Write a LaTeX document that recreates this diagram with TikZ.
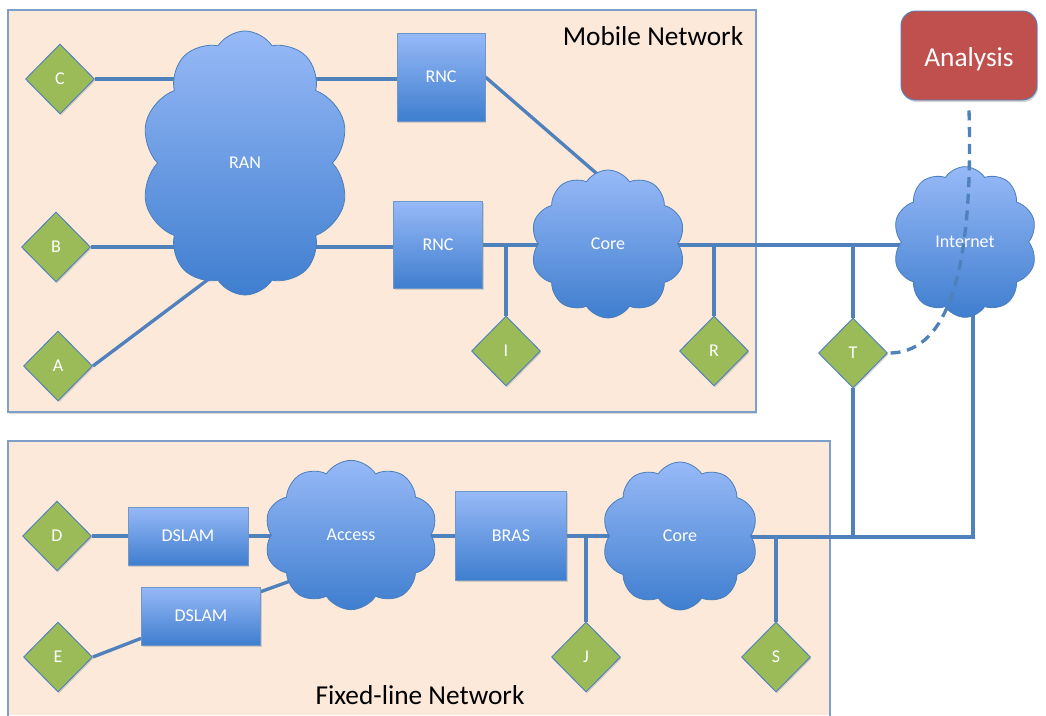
\documentclass[tikz,border=0pt]{standalone}
\usepackage{fontspec}
\setmainfont{Carlito}
\usetikzlibrary{shapes.geometric,shapes.symbols,shadows,calc}
\definecolor{lineblue}{HTML}{4F81BD}
\definecolor{dgreen}{HTML}{9BBB59}
\definecolor{peach}{HTML}{FCE9DA}
\definecolor{regionedge}{HTML}{7F9FCB}
\definecolor{topblue}{HTML}{97B9F7}
\definecolor{botblue}{HTML}{3F7ECF}
\definecolor{cloudedge}{HTML}{4A7EBB}
\definecolor{anared}{HTML}{C0504D}
\pgfdeclarelayer{back}
\pgfdeclarelayer{lines}
\pgfsetlayers{back,lines,main}
\tikzset{
  lbl/.style={font=\fontsize{13.5}{16}\selectfont, text=white},
  diam/.style={diamond, draw=lineblue, line width=0.7pt, fill=dgreen, minimum width=51.75pt, minimum height=52.5pt, inner sep=0pt, lbl,
    drop shadow={shadow xshift=0.8pt, shadow yshift=-1.2pt, opacity=0.3}},
  boxnode/.style={rectangle, draw=cloudedge!80!white, line width=0.6pt, top color=topblue, bottom color=botblue, inner sep=0pt, lbl,
    drop shadow={shadow xshift=0.8pt, shadow yshift=-1.2pt, opacity=0.3}},
  cloudnode/.style={cloud, cloud puffs=10, cloud puff arc=115, cloud ignores aspect, draw=cloudedge, line width=0.6pt,
    top color=topblue, bottom color=botblue, inner sep=0pt, lbl},
  conn/.style={draw=lineblue, line width=2.5pt},
  dlink/.style={draw=lineblue, line width=2.5pt, dash pattern=on 7.5pt off 5pt},
  region/.style={fill=peach, draw=regionedge, line width=1.4pt},
  title/.style={font=\fontsize{20.5}{24}\selectfont, text=black}
}
\begin{document}
\begin{tikzpicture}[x=0.75pt, y=-0.75pt]
\useasboundingbox (0,0) rectangle (1046,715);
% regions
\begin{pgfonlayer}{back}
\fill[peach, drop shadow={shadow xshift=0.8pt, shadow yshift=-1.2pt, opacity=0.3}] (8,10) rectangle (756,412);
\draw[region] (8,10) rectangle (756,412);
\fill[peach] (8,441) rectangle (830,715);
\draw[draw=regionedge, line width=1.4pt] (8,716) -- (8,441) -- (830,441) -- (830,716);
\end{pgfonlayer}
\node[title] (mobtitle) at (653,36) {Mobile Network};
\node[title] (fixtitle) at (420,695) {Fixed-line Network};
% mobile network nodes
\node[cloudnode, minimum width=156pt, minimum height=198pt] (ran) at (245,163) {RAN};
\node[cloudnode, minimum width=116pt, minimum height=111pt] (mcore) at (608,244) {Core};
\node[cloudnode, minimum width=108pt, minimum height=113pt] (inet) at (965,242) {Internet};
\node[boxnode, minimum width=66pt, minimum height=66pt] (rnc1) at (441,77) {RNC};
\node[boxnode, minimum width=66.75pt, minimum height=65.25pt] (rnc2) at (438,245) {RNC};
\node[diam] (C) at (60,79) {C};
\node[diam] (B) at (56,247) {B};
\node[diam] (A) at (58,366) {A};
\node[diam] (I) at (506,351) {I};
\node[diam] (R) at (714,351) {R};
\node[diam] (T) at (853,353) {T};
% fixed network nodes
\node[cloudnode, minimum width=130pt, minimum height=112pt] (access) at (351,535) {Access};
\node[cloudnode, minimum width=117pt, minimum height=111pt] (fcore) at (680,536) {Core};
\node[boxnode, minimum width=90pt, minimum height=43.5pt] (dslam1) at (188,536) {DSLAM};
\node[boxnode, minimum width=89.25pt, minimum height=43.5pt] (dslam2) at (201,616) {DSLAM};
\node[boxnode, minimum width=83.25pt, minimum height=66.75pt] (bras) at (511,536) {BRAS};
\node[diam] (D) at (57,536) {D};
\node[diam] (E) at (58,657) {E};
\node[diam] (J) at (586,657) {J};
\node[diam] (S) at (776,657) {S};
% analysis
\node[rectangle, rounded corners=11pt, draw=lineblue, line width=0.7pt, fill=anared, minimum width=102pt, minimum height=66.75pt,
  drop shadow={shadow xshift=0.8pt, shadow yshift=-1.5pt, opacity=0.35}] (analysis) at (969,55.5) {};
\node[font=\fontsize{20.5}{24}\selectfont, text=white] (analysistext) at (969,59) {Analysis};
% helper coordinates
\coordinate (ranA) at (218,272);
\coordinate (mcoreTop) at (611,186);
\coordinate (fe) at (973,537);
\coordinate (ib) at (973,300);
\coordinate (accD) at (296,579);
% connectors
\begin{pgfonlayer}{lines}
\draw[conn] (C.east) -- (C.east -| rnc1.west);
\draw[conn] (B.east) -- (B.east -| rnc2.west);
\draw[conn] (A.east) -- (ranA);
\draw[conn] (rnc1.east) -- (mcoreTop);
\draw[conn] (rnc2.east) -- (rnc2.east -| inet.center);
\draw[conn] (I.north) -- (I.north |- rnc2.east);
\draw[conn] (R.north) -- (R.north |- rnc2.east);
\draw[conn] (T.north) -- (T.north |- rnc2.east);
\draw[conn] (T.south) -- (T.south |- fe);
\draw[conn] (D.east) -- (dslam1.west);
\draw[conn] (dslam1.east) -- (dslam1.east -| access.center);
\draw[conn] (access.center |- bras.west) -- (bras.west);
\draw[conn] (bras.east) -- (bras.east -| fcore.center);
\draw[conn] (fcore.center |- fe) -- (fe) -- (ib);
\draw[conn] (J.north) -- (J.north |- bras.east);
\draw[conn] (S.north) -- (S.north |- bras.east);
\draw[conn] (E.east) -- ($(dslam2.west)!0.76!(dslam2.south west)$);
\draw[conn] ([yshift=-3.75pt]dslam2.north east) -- (accD);
\end{pgfonlayer}
\draw[dlink] ([yshift=-7.5pt]analysis.south) .. controls (974,285) and (943,354) .. (T.east);
\end{tikzpicture}
\end{document}
